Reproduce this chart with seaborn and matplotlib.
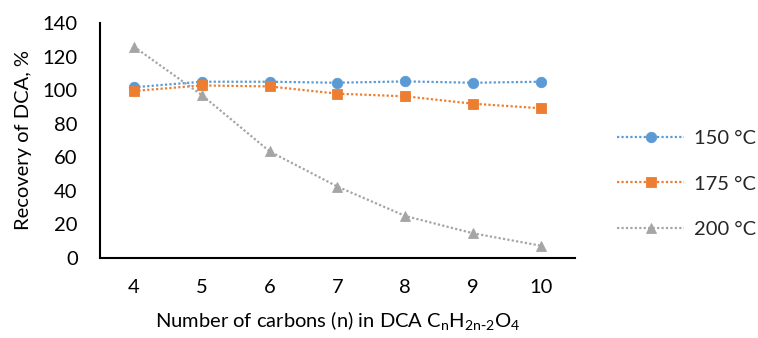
import numpy as np
import pandas as pd
import matplotlib
matplotlib.use("Agg")
import matplotlib.pyplot as plt
import seaborn as sns

# Number of carbons in the dicarboxylic acid
carbons = [4, 5, 6, 7, 8, 9, 10]
# Recovery (%) at each hydrothermal temperature
rec_150 = [101.7, 105.0, 105.0, 104.4, 105.2, 104.4, 105.0]
rec_175 = [99.5, 102.8, 102.2, 97.9, 96.3, 91.9, 89.2]
rec_200 = [125.9, 97.1, 63.5, 42.5, 25.0, 14.7, 7.3]
series_labels = ["150 °C", "175 °C", "200 °C"]
y_ticks = [0, 20, 40, 60, 80, 100, 120, 140]

df = pd.DataFrame({
    "n": carbons * 3,
    "recovery": rec_150 + rec_175 + rec_200,
    "series": [series_labels[0]] * 7 + [series_labels[1]] * 7 + [series_labels[2]] * 7,
})

sns.set_theme(style="white")
plt.rcParams["font.family"] = ["Lato", "DejaVu Sans"]

FS = 14.5
colors = ["#5B9BD5", "#ED7D31", "#A5A5A5"]
markers = {"150 °C": "o", "175 °C": "s", "200 °C": "^"}

fig = plt.figure(figsize=(7.58, 3.38), dpi=100)
ax = fig.add_axes([0.1319, 0.2367, 0.6267, 0.6953])

sns.lineplot(
    data=df, x="n", y="recovery", hue="series", style="series",
    palette=colors, markers=markers, dashes=False, ax=ax,
    markersize=7.5, markeredgewidth=0.6, linewidth=1.6, legend=True,
)
for line in ax.lines:
    line.set_linestyle((0, (1, 1)))
    line.set_markeredgecolor(line.get_color())

ax.set_xlim(3.5, 10.5)
ax.set_ylim(0, 140)
ax.set_yticks(y_ticks)
ax.set_xticks(carbons)
ax.set_xticks([10.5], minor=True)

for side in ["top", "right"]:
    ax.spines[side].set_visible(False)
for side in ["left", "bottom"]:
    ax.spines[side].set_linewidth(1.5)
    ax.spines[side].set_color("black")

ax.tick_params(axis="both", which="both", direction="out", width=1.5,
               color="black", labelsize=FS, labelcolor="black")
ax.tick_params(axis="y", length=6, pad=10)
ax.tick_params(axis="x", which="both", length=4, pad=11)

ax.set_ylabel("Recovery of DCA, %", fontsize=FS, color="black", labelpad=8)
ax.set_xlabel(r"Number of carbons (n) in DCA C$_\mathregular{n}$H$_\mathregular{2n\text{-}2}$O$_\mathregular{4}$",
              fontsize=FS, color="black", labelpad=10)

handles, labels = ax.get_legend_handles_labels()
ax.legend(handles, labels, loc="center left", bbox_to_anchor=(1.072, 0.315),
          frameon=False, fontsize=FS, handlelength=3.3, labelspacing=1.4,
          handletextpad=0.5, borderaxespad=0)

fig.savefig("out.png", dpi=100)
